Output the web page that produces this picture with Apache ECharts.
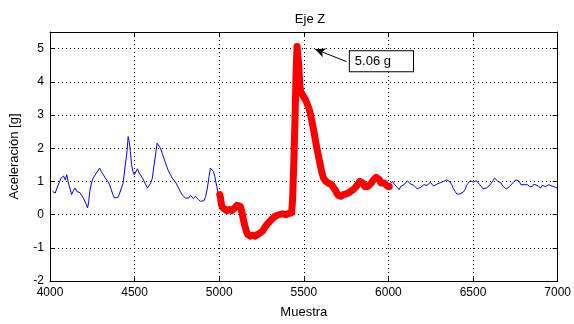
<!DOCTYPE html>
<html>
<head>
<meta charset="utf-8">
<script src="https://cdn.jsdelivr.net/npm/echarts@6/dist/echarts.min.js"></script>
<style>html,body{margin:0;padding:0;background:#fff}#c{width:574px;height:324px}</style>
</head>
<body>
<div id="c"></div>
<script>
// ---- data ----
const title = "Eje Z";
const xName = "Muestra";
const yName = "Aceleración [g]";
const xTicks = [4000, 4500, 5000, 5500, 6000, 6500, 7000];
const yTicks = [-2, -1, 0, 1, 2, 3, 4, 5];

const blueAx = [4015,4031,4041,4051,4065,4080,4090,4099,4109,4120,4128,4138,4148,4158,4167,4177,4187,4197,4206,4215,4222,4229,4235,4245,4255,4265,4274,4284,4293,4303,4313,4327,4342,4352,4362,4372,4381,4391,4401,4410,4420,4432,4445,4455,4462,4468,4475,4482,4490,4498,4508,4517,4527,4537,4547,4556,4566,4576,4585,4595,4605,4615,4625,4633,4643,4653,4663,4673,4683,4697,4712,4722,4731,4745,4760,4770,4780,4790,4800,4809,4820,4830,4838,4848,4858,4868,4878,4890,4900,4910,4920,4930,4940,4948,4958,4966,4974,4985,4994,5003];
const blueAy = [0.70,0.65,0.80,0.92,1.10,1.16,1.05,1.20,0.95,0.75,0.60,0.72,0.80,0.70,0.75,0.66,0.60,0.50,0.40,0.30,0.20,0.40,0.70,0.95,1.10,1.05,1.25,1.30,1.40,1.30,1.22,1.10,1.00,0.90,0.75,0.60,0.50,0.45,0.52,0.62,0.68,0.95,1.50,1.90,2.35,2.20,1.90,1.50,1.30,1.20,1.25,1.38,1.25,1.22,1.10,1.05,0.90,0.80,0.85,0.95,1.10,1.50,1.85,2.15,2.12,2.00,1.85,1.70,1.55,1.35,1.20,1.10,1.05,0.95,0.80,0.70,0.60,0.55,0.50,0.55,0.50,0.58,0.55,0.48,0.55,0.50,0.45,0.40,0.35,0.42,0.55,0.80,1.15,1.40,1.42,1.30,1.15,0.85,0.65,0.60];

const redX = [5003,5008,5013,5022,5033,5045,5062,5075,5091,5105,5116,5125,5135,5149,5160,5169,5185,5198,5212,5227,5242,5256,5270,5285,5300,5314,5330,5353,5373,5393,5410,5428,5434,5441,5448,5455,5460,5465,5470,5476,5482,5490,5499,5510,5519,5530,5538,5548,5558,5568,5577,5587,5597,5606,5616,5630,5645,5655,5664,5674,5684,5694,5703,5718,5733,5748,5762,5777,5791,5805,5820,5830,5839,5849,5859,5869,5879,5888,5898,5913,5927,5937,5947,5956,5966,5976,5985,5995,6005];
const redY = [0.60,0.50,0.30,0.20,0.15,0.12,0.15,0.12,0.20,0.28,0.30,0.25,0.05,-0.30,-0.50,-0.60,-0.65,-0.62,-0.65,-0.60,-0.55,-0.50,-0.38,-0.28,-0.20,-0.12,-0.05,0.00,0.02,0.00,0.03,0.05,0.50,1.60,2.90,4.40,5.06,5.00,4.50,3.90,3.70,3.62,3.55,3.45,3.35,3.20,3.05,2.80,2.55,2.25,2.00,1.75,1.50,1.28,1.10,1.00,0.95,0.92,0.90,0.85,0.75,0.65,0.58,0.55,0.60,0.62,0.65,0.70,0.75,0.82,0.92,1.00,1.00,0.95,0.85,0.80,0.85,0.90,0.95,1.05,1.12,1.15,1.05,0.95,0.90,0.95,0.92,0.85,0.85];

const blueBx = [6005,6024,6034,6044,6053,6063,6073,6083,6092,6102,6112,6122,6131,6141,6150,6160,6170,6180,6190,6199,6209,6219,6228,6238,6248,6258,6267,6277,6287,6297,6306,6316,6326,6335,6345,6355,6364,6374,6384,6394,6404,6413,6423,6433,6443,6452,6462,6472,6482,6491,6501,6510,6520,6530,6540,6549,6559,6569,6579,6588,6598,6608,6618,6627,6637,6647,6657,6666,6676,6686,6696,6705,6715,6724,6739,6754,6764,6773,6783,6793,6808,6822,6836,6851,6860,6870,6885,6899,6909,6919,6929,6938,6948,6957,6967,6977,6987,6997];
const blueBy = [0.90,1.00,0.92,0.95,0.82,0.75,0.85,0.80,0.90,0.95,1.02,1.00,0.92,0.95,0.88,0.85,0.78,0.75,0.82,0.80,0.90,0.95,0.88,0.90,0.97,0.95,0.86,0.85,0.92,0.90,0.96,0.95,1.00,1.00,1.05,1.10,0.98,0.90,0.78,0.70,0.62,0.60,0.62,0.60,0.68,0.75,0.88,0.95,1.02,1.05,0.98,0.95,1.02,1.00,0.90,0.85,0.78,0.75,0.80,0.80,0.88,0.95,1.02,1.10,1.04,1.00,0.97,0.95,0.86,0.80,0.77,0.75,0.84,0.90,0.98,1.05,1.00,1.00,0.90,0.85,0.90,0.90,0.84,0.85,0.92,0.95,0.86,0.80,0.88,0.90,0.84,0.85,0.90,0.90,0.86,0.85,0.82,0.80];

const peakLabel = "5.06 g";
const arrowFrom = [5752, 4.61];
const arrowTo = [5567, 4.98];
const boxAt = [5772, 4.62];

const zip = (xs, ys) => xs.map((x, i) => [x, ys[i]]);

const FONT = "'Liberation Sans', Arial, sans-serif";
const grid = { color: '#000', type: [1, 3], width: 1 };

const chart = echarts.init(document.getElementById('c'), null, { renderer: 'canvas' });
chart.setOption({
  animation: false,
  backgroundColor: '#fff',
  title: {
    text: title, left: 305, top: 8, textAlign: 'center',
    textStyle: { fontFamily: FONT, fontSize: 13, fontWeight: 'normal', color: '#000' }
  },
  grid: { left: 48, right: 12, top: 32, bottom: 41 },
  xAxis: [{
    type: 'value', min: 4000, max: 7000, interval: 500, position: 'bottom',
    name: xName, nameLocation: 'middle', nameGap: 25,
    nameTextStyle: { fontFamily: FONT, fontSize: 13, color: '#000' },
    axisLine: { show: true, onZero: false, lineStyle: { color: '#000', width: 1 } },
    axisTick: { show: true, inside: true, length: 5, lineStyle: { color: '#000' } },
    axisLabel: { fontFamily: FONT, fontSize: 12, color: '#000', margin: 6,
      formatter: v => xTicks.includes(v) ? String(v) : '' },
    splitLine: { show: true, lineStyle: grid }
  }, {
    type: 'value', min: 4000, max: 7000, interval: 500, position: 'top',
    axisLine: { show: true, onZero: false, lineStyle: { color: '#000', width: 1 } },
    axisTick: { show: true, inside: true, length: 5, lineStyle: { color: '#000' } },
    axisLabel: { show: false }, splitLine: { show: false }
  }],
  yAxis: [{
    type: 'value', min: -2, max: 5.5, interval: 1, position: 'left',
    name: yName, nameLocation: 'middle', nameGap: 29,
    nameTextStyle: { fontFamily: FONT, fontSize: 13, color: '#000' },
    axisLine: { show: true, onZero: false, lineStyle: { color: '#000', width: 1 } },
    axisTick: { show: true, inside: true, length: 5, lineStyle: { color: '#000' } },
    axisLabel: { fontFamily: FONT, fontSize: 12, color: '#000', margin: 6, showMaxLabel: false,
      formatter: v => yTicks.includes(v) ? String(v) : '' },
    splitLine: { show: true, lineStyle: grid }
  }, {
    type: 'value', min: -2, max: 5.5, interval: 1, position: 'right',
    axisLine: { show: true, onZero: false, lineStyle: { color: '#000', width: 1 } },
    axisTick: { show: true, inside: true, length: 5, lineStyle: { color: '#000' } },
    axisLabel: { show: false }, splitLine: { show: false }
  }],
  series: [{
    type: 'line', data: zip(blueAx, blueAy), showSymbol: false, symbol: 'none',
    lineStyle: { color: '#0000ff', width: 1 }, z: 2
  }, {
    type: 'line', data: zip(blueBx, blueBy), showSymbol: false, symbol: 'none',
    lineStyle: { color: '#0000ff', width: 1 }, z: 2
  }, {
    type: 'line', data: zip(redX, redY), showSymbol: false, symbol: 'none',
    lineStyle: { color: '#ff0000', width: 7, join: 'round', cap: 'round' }, z: 3,
    markLine: {
      silent: true, animation: false,
      symbol: ['none', 'arrow'], symbolSize: [7, 10],
      lineStyle: { color: '#000', width: 1, type: 'solid' },
      label: { show: false },
      data: [[{ coord: arrowFrom }, { coord: arrowTo }]]
    },
    markPoint: {
      silent: true, animation: false,
      symbol: 'rect', symbolSize: 0,
      data: [{ coord: boxAt }],
      label: {
        show: true, formatter: peakLabel, position: 'right', distance: 0,
        fontFamily: FONT, fontSize: 13, color: '#000',
        backgroundColor: '#fff', borderColor: '#000', borderWidth: 1,
        padding: [4, 22, 3, 5]
      }
    }
  }]
});
</script>
</body>
</html>
